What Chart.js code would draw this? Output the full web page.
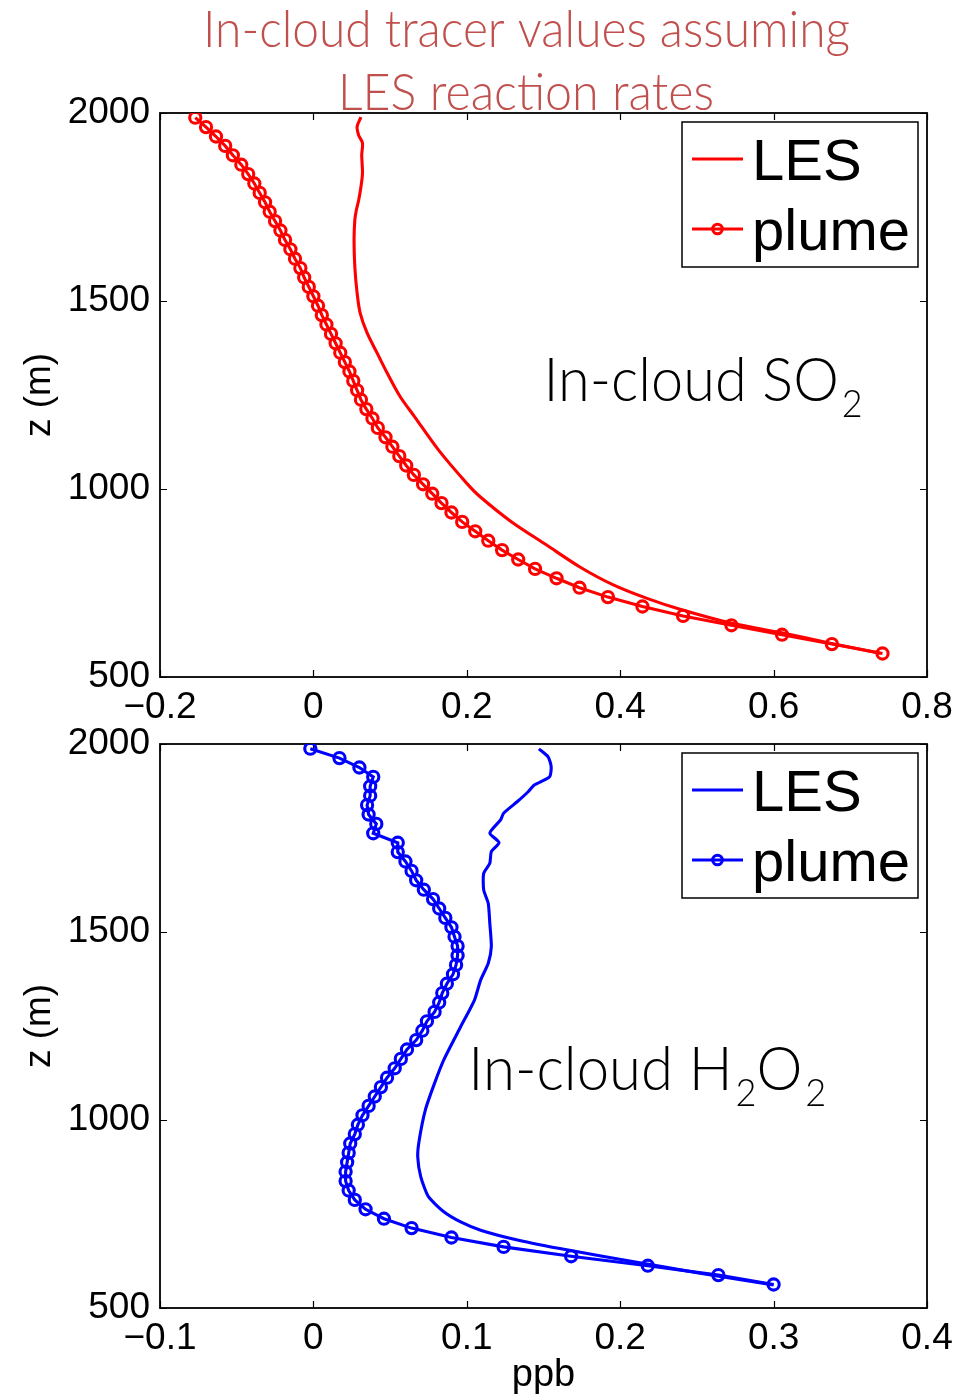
<!DOCTYPE html>
<html>
<head>
<meta charset="utf-8">
<script src="https://cdn.jsdelivr.net/npm/chart.js@4.4.1/dist/chart.umd.min.js"></script>
<style>
  html, body { margin: 0; padding: 0; background: #fff; }
  body { width: 972px; height: 1398px; position: relative; overflow: hidden; }
  canvas { position: absolute; left: 0; }
  #so2 { top: 0; }
  #h2o2 { top: 715px; }
</style>
</head>
<body>
<canvas id="so2" width="972" height="735"></canvas>
<canvas id="h2o2" width="972" height="683"></canvas>
<script>
// ---- profile data (height in m, mixing ratio in ppb) ----
// plume model levels (shared by both tracers)
const plumeZ = [562.5, 587.5, 612.5, 637.5, 662.5, 687.5, 712.5, 737.5, 762.5, 787.5,
  812.5, 837.5, 862.5, 887.5, 912.5, 937.5, 962.5, 987.5, 1012.5, 1037.5,
  1062.5, 1087.5, 1112.5, 1137.5, 1162.5, 1187.5, 1212.5, 1237.5, 1262.5, 1287.5,
  1312.5, 1337.5, 1362.5, 1387.5, 1412.5, 1437.5, 1462.5, 1487.5, 1512.5, 1537.5,
  1562.5, 1587.5, 1612.5, 1637.5, 1662.5, 1687.5, 1712.5, 1737.5, 1762.5, 1787.5,
  1812.5, 1837.5, 1862.5, 1887.5, 1912.5, 1937.5, 1962.5, 1987.5];

const so2Plume = [0.742, 0.676, 0.611, 0.545, 0.482, 0.429, 0.384, 0.347, 0.317, 0.289,
  0.267, 0.246, 0.228, 0.211, 0.194, 0.180, 0.167, 0.155, 0.143, 0.131,
  0.121, 0.112, 0.103, 0.094, 0.084, 0.077, 0.069, 0.062, 0.057, 0.052,
  0.047, 0.041, 0.035, 0.029, 0.023, 0.017, 0.011, 0.006, 0.000, -0.006,
  -0.012, -0.017, -0.024, -0.030, -0.037, -0.043, -0.050, -0.057, -0.063, -0.070,
  -0.077, -0.085, -0.094, -0.105, -0.115, -0.127, -0.140, -0.154];

const h2o2Plume = [0.300, 0.264, 0.218, 0.168, 0.124, 0.090, 0.064, 0.046, 0.034, 0.027,
  0.023, 0.021, 0.021, 0.022, 0.023, 0.024, 0.027, 0.029, 0.032, 0.036,
  0.040, 0.044, 0.048, 0.053, 0.057, 0.061, 0.067, 0.071, 0.074, 0.079,
  0.082, 0.084, 0.087, 0.091, 0.093, 0.094, 0.094, 0.092, 0.090, 0.086,
  0.082, 0.078, 0.072, 0.067, 0.064, 0.060, 0.055, 0.055, 0.039, 0.041,
  0.036, 0.035, 0.037, 0.037, 0.039, 0.030, 0.017, -0.002];

// LES horizontal means
const so2LesZ = [563, 590, 618, 644, 680, 709, 745, 792, 851, 913,
  980, 1015, 1104, 1192, 1246, 1309, 1362, 1415, 1468, 1521,
  1591, 1662, 1715, 1742, 1768, 1804, 1840, 1888, 1920, 1941, 1964, 1989];
const so2Les = [0.739, 0.674, 0.609, 0.543, 0.478, 0.435, 0.391, 0.348, 0.304, 0.258,
  0.217, 0.200, 0.163, 0.132, 0.113, 0.096, 0.083, 0.070, 0.061, 0.057,
  0.054, 0.053, 0.054, 0.056, 0.059, 0.062, 0.064, 0.063, 0.064, 0.059, 0.057, 0.062];

const h2o2LesZ = [561, 592, 623, 654, 681, 707, 729, 756, 796, 849,
  903, 947, 1027, 1098, 1160, 1248, 1319, 1372, 1417, 1461,
  1523, 1576, 1612, 1656, 1683, 1714, 1738, 1763, 1798, 1816,
  1847, 1873, 1891, 1913, 1940, 1966, 1987];
const h2o2Les = [0.300, 0.253, 0.209, 0.166, 0.133, 0.109, 0.096, 0.085, 0.075, 0.070,
  0.068, 0.069, 0.073, 0.079, 0.085, 0.096, 0.105, 0.109, 0.114, 0.116,
  0.115, 0.114, 0.111, 0.111, 0.115, 0.116, 0.121, 0.115, 0.122, 0.124,
  0.133, 0.140, 0.144, 0.154, 0.155, 0.153, 0.147];

const heightTicks = [500, 1000, 1500, 2000];
const so2Ticks = [-0.2, 0, 0.2, 0.4, 0.6, 0.8];
const h2o2Ticks = [-0.1, 0, 0.1, 0.2, 0.3, 0.4];

const seriesNames = ['LES', 'plume'];
const titleLines = ['In-cloud tracer values assuming', 'LES reaction rates'];

// ---- helpers ----
const pairs = (xs, zs) => xs.map((v, i) => ({ x: v, y: zs[i] }));
const fmtTick = v => {
  const r = Math.round(v * 10) / 10;
  if (Math.abs(r) < 1e-9) return '0';
  return (r < 0 ? '\u2212' : '') + Math.abs(r).toString();
};
const AXIS_FONT = '"Liberation Sans", Arial, Helvetica, sans-serif';
const LIGHT_FONT = 'Lato, "Open Sans", sans-serif';

// draw a run of text pieces (normal + subscript), squeezed to a target width
function drawRich(ctx, pieces, x, y, opt) {
  ctx.save();
  ctx.fillStyle = opt.color;
  ctx.textBaseline = 'alphabetic';
  ctx.textAlign = 'left';
  let w = 0;
  const widths = pieces.map(p => {
    ctx.font = `${opt.weight} ${p.sub ? opt.subSize : opt.size}px ${LIGHT_FONT}`;
    const m = ctx.measureText(p.t).width;
    w += m + (p.sub ? opt.subGap : 0);
    return m;
  });
  const k = opt.width ? opt.width / w : 1;
  let x0 = opt.align === 'center' ? x - (w * k) / 2 : x;
  ctx.translate(x0, y);
  ctx.scale(k, 1);
  let cx = 0;
  pieces.forEach((p, i) => {
    ctx.font = `${opt.weight} ${p.sub ? opt.subSize : opt.size}px ${LIGHT_FONT}`;
    if (p.sub) cx += opt.subGap;
    ctx.fillText(p.t, cx, p.sub ? opt.subDrop : 0);
    cx += widths[i];
  });
  ctx.restore();
}

// axes box with inward tick marks on all four sides
const framePlugin = {
  id: 'frame',
  beforeDatasetsDraw(chart) {
    const { ctx, chartArea: a, scales } = chart;
    ctx.save();
    ctx.strokeStyle = '#000';
    ctx.lineWidth = 1.2;
    const len = 7;
    scales.x.ticks.forEach(t => {
      const px = Math.round(scales.x.getPixelForValue(t.value)) + 0.5;
      ctx.beginPath();
      ctx.moveTo(px, a.bottom); ctx.lineTo(px, a.bottom - len);
      ctx.moveTo(px, a.top); ctx.lineTo(px, a.top + len);
      ctx.stroke();
    });
    scales.y.ticks.forEach(t => {
      const py = Math.round(scales.y.getPixelForValue(t.value)) + 0.5;
      ctx.beginPath();
      ctx.moveTo(a.left, py); ctx.lineTo(a.left + len, py);
      ctx.moveTo(a.right, py); ctx.lineTo(a.right - len, py);
      ctx.stroke();
    });
    ctx.lineWidth = 1.8;
    ctx.strokeRect(a.left, a.top, a.right - a.left, a.bottom - a.top);
    ctx.restore();
  }
};

// boxed legend in the upper right corner of the plot
const boxLegendPlugin = {
  id: 'boxLegend',
  afterDatasetsDraw(chart, args, o) {
    const { ctx, chartArea: a } = chart;
    const L = a.right - o.fromRight - o.width, T = a.top + o.fromTop;
    ctx.save();
    ctx.fillStyle = '#fff';
    ctx.fillRect(L, T, o.width, o.height);
    ctx.strokeStyle = '#000';
    ctx.lineWidth = 1.5;
    ctx.strokeRect(L, T, o.width, o.height);
    chart.data.datasets.forEach((ds, i) => {
      const y = T + o.firstRow + i * o.rowGap;
      ctx.strokeStyle = ds.borderColor;
      ctx.lineWidth = ds.borderWidth;
      ctx.beginPath();
      ctx.moveTo(L + o.lineStart, y); ctx.lineTo(L + o.lineEnd, y);
      ctx.stroke();
      if (ds.pointRadius > 0) {
        ctx.lineWidth = ds.pointBorderWidth;
        ctx.beginPath();
        ctx.arc(L + (o.lineStart + o.lineEnd) / 2, y, ds.pointRadius - 0.8, 0, Math.PI * 2);
        ctx.stroke();
      }
      ctx.fillStyle = '#000';
      ctx.font = `${o.fontSize}px ${AXIS_FONT}`;
      ctx.textBaseline = 'alphabetic';
      ctx.textAlign = 'left';
      ctx.fillText(ds.label, L + o.textStart, y + o.textDrop);
    });
    ctx.restore();
  }
};

// figure heading and in-plot species labels
const labelsPlugin = {
  id: 'labels',
  afterDraw(chart, args, o) {
    const { ctx, scales } = chart;
    if (o.title) {
      o.title.forEach(tl => drawRich(ctx, [{ t: tl.text }], tl.cx, tl.base,
        { size: 52, weight: 300, color: '#C0504D', width: tl.width, align: 'center' }));
    }
    if (o.species) {
      const s = o.species;
      drawRich(ctx, s.pieces, scales.x.getPixelForValue(s.x), scales.y.getPixelForValue(s.z),
        { size: 61, subSize: 38, subDrop: 16, subGap: 3, weight: 300, color: '#000', width: s.width, align: 'left' });
    }
  }
};

function makePanel(id, cfg) {
  const lineW = 3.1;
  return new Chart(document.getElementById(id), {
    type: 'scatter',
    data: {
      datasets: [
        {
          label: seriesNames[0], data: pairs(cfg.les, cfg.lesZ), showLine: true,
          borderColor: cfg.color, backgroundColor: cfg.color, borderWidth: lineW,
          pointRadius: 0, pointHoverRadius: 0, tension: cfg.lesTension, order: 2
        },
        {
          label: seriesNames[1], data: pairs(cfg.plume, plumeZ), showLine: true,
          borderColor: cfg.color, backgroundColor: 'rgba(0,0,0,0)', borderWidth: lineW,
          pointRadius: 5.6, pointBorderWidth: 3.1, pointBorderColor: cfg.color,
          pointBackgroundColor: 'rgba(0,0,0,0)', pointStyle: 'circle', tension: 0, order: 1
        }
      ]
    },
    options: {
      responsive: false, animation: false, devicePixelRatio: 1,
      layout: { padding: { top: cfg.padTop, right: 45, left: 0, bottom: 0 } },
      plugins: {
        legend: { display: false }, tooltip: { enabled: false },
        boxLegend: { fromRight: 9, fromTop: 9, width: 236, height: 145, firstRow: 37, rowGap: 70,
          lineStart: 10, lineEnd: 61, textStart: 70, textDrop: 21, fontSize: 58 },
        labels: { title: cfg.title, species: cfg.species }
      },
      scales: {
        x: {
          type: 'linear', min: cfg.ticks[0], max: cfg.ticks[cfg.ticks.length - 1],
          afterBuildTicks: s => { s.ticks = cfg.ticks.map(v => ({ value: v })); },
          afterFit: s => { s.height = cfg.xHeight; s.paddingLeft = 0; s.paddingRight = 0; },
          grid: { display: false, drawTicks: false }, border: { display: false },
          ticks: { callback: fmtTick, autoSkip: false, maxRotation: 0, padding: 9, color: '#000',
            font: { family: AXIS_FONT, size: 37 } },
          title: { display: !!cfg.xTitle, text: cfg.xTitle || '', color: '#000',
            font: { family: AXIS_FONT, size: 38 }, padding: { top: 0, bottom: 0 } }
        },
        y: {
          type: 'linear', min: 500, max: 2000,
          afterBuildTicks: s => { s.ticks = heightTicks.map(v => ({ value: v })); },
          afterFit: s => { s.width = 160; s.paddingTop = 0; s.paddingBottom = 0; },
          grid: { display: false, drawTicks: false }, border: { display: false },
          ticks: { callback: v => String(v), padding: 10, color: '#000',
            font: { family: AXIS_FONT, size: 37 } },
          title: { display: true, text: 'z (m)', color: '#000',
            font: { family: AXIS_FONT, size: 37 }, padding: { top: 18, bottom: 0 } }
        }
      }
    },
    plugins: [framePlugin, boxLegendPlugin, labelsPlugin]
  });
}

makePanel('so2', {
  color: '#FF0000', les: so2Les, lesZ: so2LesZ, plume: so2Plume, ticks: so2Ticks,
  padTop: 113, xHeight: 58, lesTension: 0.3,
  title: [
    { text: titleLines[0], cx: 526.5, base: 47, width: 647 },
    { text: titleLines[1], cx: 526, base: 110, width: 376 }
  ],
  species: { pieces: [{ t: 'In-cloud SO' }, { t: '2', sub: true }], x: 0.30, z: 1234, width: 319 }
});

makePanel('h2o2', {
  color: '#0000FF', les: h2o2Les, lesZ: h2o2LesZ, plume: h2o2Plume, ticks: h2o2Ticks,
  padTop: 29, xHeight: 90, xTitle: 'ppb', lesTension: 0.2,
  species: { pieces: [{ t: 'In-cloud H' }, { t: '2', sub: true }, { t: 'O' }, { t: '2', sub: true }],
    x: 0.101, z: 1080, width: 358 }
});
</script>
</body>
</html>
